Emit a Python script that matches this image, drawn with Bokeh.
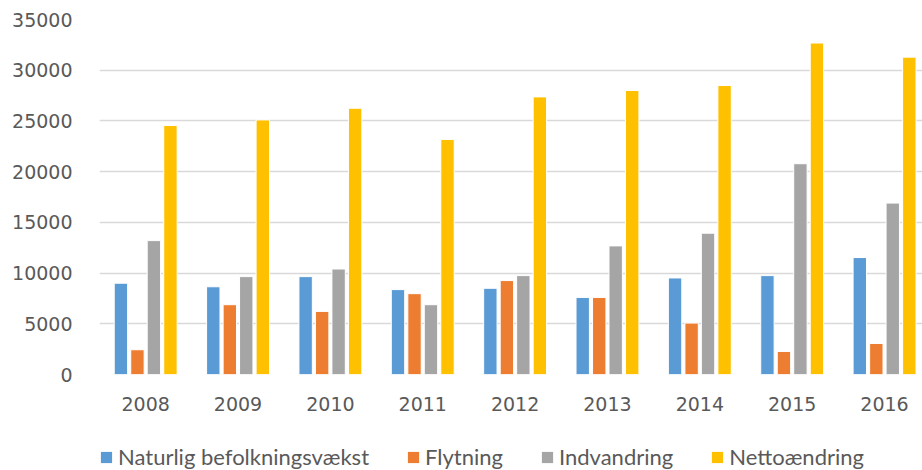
from bokeh.plotting import figure
from bokeh.models import ColumnDataSource, FixedTicker, Legend, LegendItem
from bokeh.layouts import column
from bokeh.transform import dodge
from bokeh.embed import file_html
from bokeh.resources import INLINE

years = [2008, 2009, 2010, 2011, 2012, 2013, 2014, 2015, 2016]
naturlig = [9000, 8650, 9650, 8370, 8500, 7600, 9520, 9750, 11530]
flytning = [2440, 6880, 6220, 7970, 9260, 7600, 5070, 2270, 3060]
indvandring = [13200, 9650, 10400, 6880, 9750, 12680, 13930, 20780, 16900]
netto = [24550, 25100, 26250, 23180, 27370, 28000, 28490, 32680, 31290]

series_names = ["Naturlig befolkningsvækst", "Flytning", "Indvandring", "Nettoændring"]
colors = ["#5B9BD5", "#ED7D31", "#A5A5A5", "#FFC000"]
offsets = [-0.268, -0.089, 0.089, 0.268]

src = ColumnDataSource(dict(year=years, naturlig=naturlig, flytning=flytning,
                            indvandring=indvandring, netto=netto))

p = figure(width=922, height=420, output_backend="svg", toolbar_location=None,
           x_range=(2007.5, 2016.411), y_range=(0, 35000),
           min_border_left=99, min_border_right=0, min_border_top=19,
           min_border_bottom=46)
p.outline_line_color = None
p.background_fill_color = "white"
p.border_fill_color = "white"

for col, off, c in zip(["naturlig", "flytning", "indvandring", "netto"], offsets, colors):
    p.vbar(x=dodge("year", off), top=col, width=0.145, source=src,
           fill_color=c, line_color="white", line_width=1)

p.xaxis.ticker = FixedTicker(ticks=years)
p.yaxis.ticker = FixedTicker(ticks=[0, 5000, 10000, 15000, 20000, 25000, 30000, 35000])
for ax in (p.xaxis, p.yaxis):
    ax.axis_line_color = None
    ax.major_tick_line_color = None
    ax.minor_tick_line_color = None
    ax.major_label_text_font = "DejaVu Sans"
    ax.major_label_text_font_size = "19px"
    ax.major_label_text_color = "#595959"
p.xaxis.major_label_standoff = 16
p.yaxis.major_label_standoff = 21
p.xgrid.grid_line_color = None
p.ygrid.grid_line_color = "#D9D9D9"
p.ygrid.grid_line_width = 1.3

# legend strip (placeholder renderers sit outside the visible range)
lg = figure(width=922, height=50, output_backend="svg", toolbar_location=None,
            x_axis_type=None, y_axis_type=None, x_range=(0, 1), y_range=(0, 1),
            min_border_left=0, min_border_right=0, min_border_top=0, min_border_bottom=0)
lg.outline_line_color = None
lg.xgrid.grid_line_color = None
lg.ygrid.grid_line_color = None
dummies = [lg.vbar(x=[-10], top=[-10], width=0.1, fill_color=c, line_color=None) for c in colors]
legend = Legend(items=[LegendItem(label=n, renderers=[r]) for n, r in zip(series_names, dummies)],
                orientation="horizontal", location=(0, 0), padding=0, margin=0,
                border_line_color=None, background_fill_alpha=0,
                glyph_width=14, glyph_height=14, label_height=20,
                label_standoff=5, spacing=37,
                label_text_font="Lato", label_text_font_size="22px",
                label_text_color="#595959")
lg.add_layout(legend, "center")

layout = column(p, lg, spacing=0)
open("out.html", "w").write(file_html(layout, INLINE))
